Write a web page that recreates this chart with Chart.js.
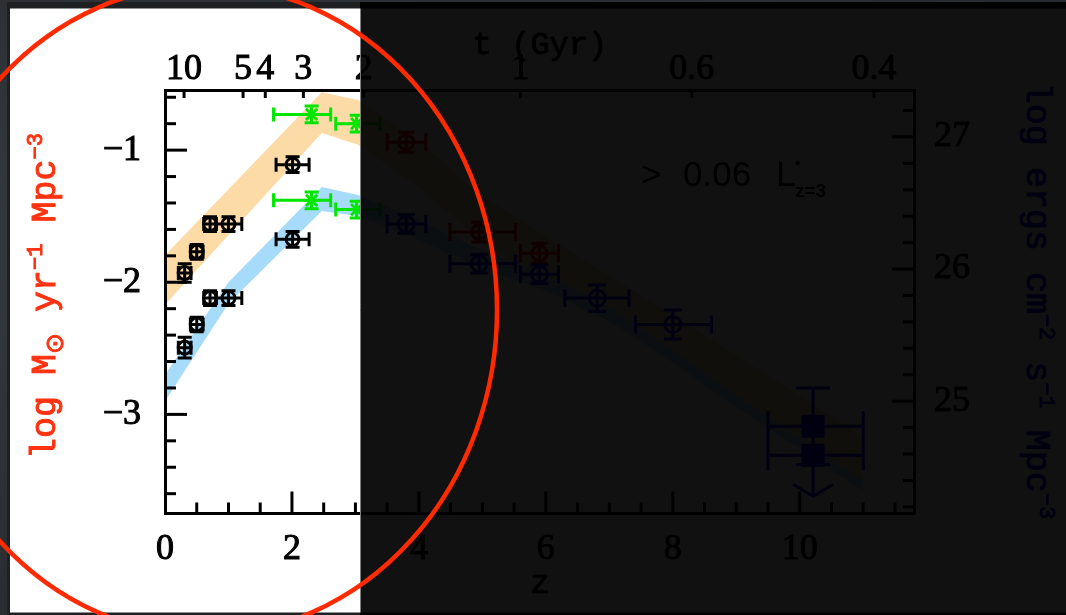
<!DOCTYPE html>
<html>
<head>
<meta charset="utf-8">
<script src="https://cdn.jsdelivr.net/npm/chart.js@4.4.0/dist/chart.umd.min.js"></script>
<style>
  html, body { margin: 0; padding: 0; width: 1066px; height: 615px; overflow: hidden;
    background: radial-gradient(ellipse at 20% 40%, #363b40 0%, #2c3034 55%, #24282b 100%); }
  canvas { display: block; }
</style>
</head>
<body>
<canvas id="sfr" width="1066" height="615"></canvas>
<script>
// ---- axes ----
const zMax = 11.8;
const yMin = -3.75, yMax = -0.545;
const lumOffset = 27.9;               // log SFR density -> log luminosity density
const zTicks = [0, 2, 4, 6, 8, 10];
const sfrTicks = [-3, -2, -1];
const lumTicks = [25, 26, 27];
// cosmic age (Gyr) on the top axis and the redshift of each tick
const ageLabels = ['10', '5', '4', '3', '2', '1', '0.6', '0.4'];
const ageTickZ  = [0.30, 1.23, 1.58, 2.18, 3.13, 5.60, 8.30, 11.17];

// ---- shaded bands ----
const dustBandZ  = [0, 2.47, 3.04, 4.0, 5.0, 6.0, 7.0, 8.0, 9.0, 10.0, 11.0];
const dustBandHi = [-1.795, -0.562, -0.62, -0.93, -1.35, -1.65, -1.95, -2.25, -2.55, -2.86, -3.17];
const dustBandLo = [-2.17, -0.87, -0.96, -1.28, -1.70, -2.00, -2.29, -2.59, -2.89, -3.20, -3.51];
const rawBandZ   = [0, 1.0, 2.47, 3.04, 3.8, 5.0, 6.0, 7.0, 8.0, 9.0, 10.0, 11.0];
const rawBandHi  = [-2.70, -2.00, -1.28, -1.34, -1.485, -1.76, -1.935, -2.185, -2.51, -2.855, -3.18, -3.50];
const rawBandLo  = [-2.90, -2.16, -1.46, -1.50, -1.635, -1.90, -2.065, -2.295, -2.61, -2.945, -3.26, -3.58];

// ---- low-redshift points (black) ----
const lowZ       = [0.31, 0.50, 0.71, 1.00, 2.01];
const lowZLo     = [0.21, 0.40, 0.61, 0.80, 1.75];
const lowZHi     = [0.41, 0.60, 0.81, 1.21, 2.27];
const lowDustV   = [-1.93, -1.77, -1.56, -1.56, -1.11];
const lowDustErr = [0.07, 0.055, 0.055, 0.055, 0.06];
const lowRawV    = [-2.495, -2.32, -2.12, -2.12, -1.675];
const lowRawErr  = [0.078, 0.055, 0.055, 0.055, 0.06];

// ---- z~2-3 points (green) ----
const greenZ     = [2.31, 3.02];
const greenZLo   = [1.71, 2.69];
const greenZHi   = [2.61, 3.39];
const greenDustV = [-0.73, -0.80];
const greenRawV  = [-1.38, -1.45];
const greenErr   = [0.063, 0.063];

// ---- high-redshift points ----
const hiDustZ    = [3.80, 4.95, 5.90];
const hiDustZLo  = [3.50, 4.49, 5.60];
const hiDustZHi  = [4.11, 5.52, 6.20];
const hiDustV    = [-0.94, -1.62, -1.78];
const hiDustErr  = [0.076, 0.075, 0.075];
const hiRawZ     = [3.80, 4.95, 5.90, 6.81, 8.00];
const hiRawZLo   = [3.50, 4.49, 5.60, 6.30, 7.41];
const hiRawZHi   = [4.11, 5.52, 6.20, 7.31, 8.61];
const hiRawV     = [-1.56, -1.86, -1.94, -2.12, -2.32];
const hiRawErr   = [0.07, 0.07, 0.07, 0.10, 0.11];

// ---- z~10 ----
const z10        = [10.21];
const z10Lo      = [9.50];
const z10Hi      = [11.00];
const z10DustV   = [-3.09];
const z10DustErr = [0.29];
const z10RawV    = [-3.31];
const z10RawLim  = [-3.62];

const pts = (zs, vs) => zs.map((z, i) => ({ x: z, y: vs[i] }));
const errs = (lo, hi, ve) => lo.map((l, i) => ({ zLo: l, zHi: hi[i], vErr: ve ? ve[i] : 0 }));

const ORANGE = 'rgb(253,219,166)';
const SKY = 'rgb(166,219,250)';
const NONE = 'rgba(0,0,0,0)';

function markers(data, bars, color, style, r, bw, capX, capY) {
  return { type: 'scatter', data, errorBars: bars, borderColor: color,
    backgroundColor: style === 'rect' ? color : NONE, pointStyle: style,
    pointRadius: r, pointBorderWidth: bw, errLineWidth: 3, capX, capY, order: 1 };
}

const datasets = [
  markers(pts(lowZ, lowDustV), errs(lowZLo, lowZHi, lowDustErr), '#000', 'circle', 6.5, 3, 7, 7),
  markers(pts(lowZ, lowRawV), errs(lowZLo, lowZHi, lowRawErr), '#000', 'circle', 6.5, 3, 7, 7),
  markers(pts(greenZ, greenDustV), errs(greenZLo, greenZHi, greenErr), '#00e600', 'star', 8, 2.8, 7, 7),
  markers(pts(greenZ, greenRawV), errs(greenZLo, greenZHi, greenErr), '#00e600', 'star', 8, 2.8, 7, 7),
  markers(pts(hiDustZ, hiDustV), errs(hiDustZLo, hiDustZHi, hiDustErr), '#ff0000', 'circle', 7.5, 3, 9, 8),
  markers(pts(hiRawZ, hiRawV), errs(hiRawZLo, hiRawZHi, hiRawErr), '#0000ff', 'circle', 8, 3, 9, 9),
  markers(pts(z10, z10DustV), errs(z10Lo, z10Hi, z10DustErr), '#0000ff', 'rect', 16.3, 0, 15, 17),
  markers(pts(z10, z10RawV), z10Lo.map((l, i) => ({ zLo: l, zHi: z10Hi[i], limit: z10RawLim[i] })), '#0000ff', 'rect', 16.3, 0, 15, 17),
  // dust-corrected band
  { type: 'line', data: pts(dustBandZ, dustBandHi), borderColor: NONE, borderWidth: 0, pointRadius: 0, fill: false, tension: 0, order: 20 },
  { type: 'line', data: pts(dustBandZ, dustBandLo), borderColor: NONE, borderWidth: 0, pointRadius: 0, fill: '-1', backgroundColor: ORANGE, tension: 0, order: 20 },
  // uncorrected band
  { type: 'line', data: pts(rawBandZ, rawBandHi), borderColor: NONE, borderWidth: 0, pointRadius: 0, fill: false, tension: 0, order: 15 },
  { type: 'line', data: pts(rawBandZ, rawBandLo), borderColor: NONE, borderWidth: 0, pointRadius: 0, fill: '-1', backgroundColor: SKY, tension: 0, order: 15 }
];

// error bars, caps and upper-limit arrows
const errorBars = {
  id: 'errorBars',
  afterDatasetsDraw(chart) {
    const c = chart.ctx, sx = chart.scales.x, sy = chart.scales.y;
    chart.data.datasets.forEach(ds => {
      if (!ds.errorBars) return;
      c.save();
      c.strokeStyle = ds.borderColor;
      c.lineWidth = ds.errLineWidth;
      c.lineCap = 'butt';
      ds.data.forEach((p, j) => {
        const e = ds.errorBars[j];
        const px = sx.getPixelForValue(p.x), py = sy.getPixelForValue(p.y);
        c.beginPath();
        const x0 = sx.getPixelForValue(e.zLo), x1 = sx.getPixelForValue(e.zHi);
        c.moveTo(x0, py); c.lineTo(x1, py);
        c.moveTo(x0, py - ds.capX); c.lineTo(x0, py + ds.capX);
        c.moveTo(x1, py - ds.capX); c.lineTo(x1, py + ds.capX);
        if (e.vErr) {
          const y0 = sy.getPixelForValue(p.y + e.vErr), y1 = sy.getPixelForValue(p.y - e.vErr);
          c.moveTo(px, y0); c.lineTo(px, y1);
          c.moveTo(px - ds.capY, y0); c.lineTo(px + ds.capY, y0);
          c.moveTo(px - ds.capY, y1); c.lineTo(px + ds.capY, y1);
        }
        if (e.limit !== undefined) {
          const yl = sy.getPixelForValue(e.limit);
          c.moveTo(px, py); c.lineTo(px, yl);
          c.moveTo(px - 20, yl - 12); c.lineTo(px, yl); c.lineTo(px + 20, yl - 12);
        }
        c.stroke();
      });
      c.restore();
    });
  }
};

// tick marks pointing into the frame
const inwardTicks = {
  id: 'inwardTicks',
  afterDatasetsDraw(chart) {
    const c = chart.ctx, a = chart.chartArea, s = chart.scales;
    c.save();
    c.strokeStyle = '#000';
    c.lineWidth = 3;
    const seg = (x0, y0, x1, y1) => { c.beginPath(); c.moveTo(x0, y0); c.lineTo(x1, y1); c.stroke(); };
    for (let k = 1; k * 0.5 < zMax; k++) {
      const px = s.x.getPixelForValue(k * 0.5);
      seg(px, a.bottom, px, a.bottom - (k % 4 === 0 ? 22 : 11));
    }
    for (let k = Math.ceil(yMin * 5); k <= Math.floor(yMax * 5); k++) {
      const py = s.y.getPixelForValue(k / 5);
      seg(a.left, py, a.left + (k % 5 === 0 ? 22 : 11), py);
    }
    for (let k = Math.ceil((yMin + lumOffset) * 5); k <= Math.floor((yMax + lumOffset) * 5); k++) {
      const py = s.yLum.getPixelForValue(k / 5);
      seg(a.right, py, a.right - (k % 5 === 0 ? 22 : 11), py);
    }
    ageTickZ.forEach(z => {
      const px = s.xAge.getPixelForValue(z);
      seg(px, a.top, px, a.top + 8);
    });
    c.restore();
  }
};

// text with raised / lowered pieces, optionally rotated; a thin outline thickens the strokes
function richText(c, parts, x, y, angle) {
  c.save();
  c.translate(x, y);
  c.rotate(angle);
  c.textAlign = 'left';
  c.textBaseline = 'alphabetic';
  c.strokeStyle = c.fillStyle;
  c.lineWidth = 1;
  c.lineJoin = 'round';
  let total = 0;
  parts.forEach(p => { c.font = p[1]; total += c.measureText(p[0]).width; });
  let cx = -total / 2;
  parts.forEach(p => {
    c.font = p[1];
    c.fillText(p[0], cx, p[2]);
    c.strokeText(p[0], cx, p[2]);
    cx += c.measureText(p[0]).width;
  });
  c.restore();
}

const MONO = '"Liberation Mono", "DejaVu Sans Mono", monospace';
const slide = {
  id: 'slide',
  beforeDraw(chart) {
    const c = chart.ctx;
    c.save();
    c.fillStyle = '#1e2022';
    c.fillRect(7, 2, 1059, 613);
    c.fillStyle = '#ffffff';
    c.fillRect(10, 8.5, 1056, 604);
    c.restore();
  },
  afterDraw(chart) {
    const c = chart.ctx;
    c.save();
    const big = '35px ' + MONO, sup = '22px ' + MONO;
    c.fillStyle = '#ff3311';
    richText(c, [['log M', big, 0], ['\u2299', '25px "DejaVu Sans"', 8], [' yr', big, 0],
      ['\u22121', sup, -13], [' Mpc', big, 0], ['\u22123', sup, -13]], 55, 296, -Math.PI / 2);
    c.fillStyle = '#0000ff';
    richText(c, [['log ergs cm', big, 0], ['\u22122', sup, -13], [' s', big, 0],
      ['\u22121', sup, -13], [' Mpc', big, 0], ['\u22123', sup, -13]], 1027, 301, Math.PI / 2);

    c.fillStyle = '#000';
    richText(c, [['t (Gyr)', '32px ' + MONO, 0]], 540, 54, 0);
    richText(c, [['z', '33px ' + MONO, 0]], 540, 593, 0);

    c.textAlign = 'left';
    c.textBaseline = 'alphabetic';
    c.font = '35px "Liberation Sans"';
    c.fillText('>', 641, 185.5);
    c.fillText('0.06', 683, 185.5);
    c.fillText('L', 776, 185.5);
    c.font = 'bold 15px "Liberation Sans"';
    c.fillText('\u2022', 795, 168);
    c.font = 'bold 19px "Liberation Sans"';
    c.fillText('z=3', 795, 197);

    // dimmed right-hand side of the slide
    c.fillStyle = 'rgba(0,0,0,0.933)';
    c.fillRect(360, 2, 706, 613);
    c.strokeStyle = 'rgba(140,140,140,0.9)';
    c.lineWidth = 1;
    c.beginPath(); c.moveTo(360.5, 8.5); c.lineTo(360.5, 612.5); c.stroke();

    // highlight ring
    c.beginPath();
    c.ellipse(205, 310, 292, 325, 0, 0, Math.PI * 2);
    c.lineWidth = 4.5;
    c.strokeStyle = '#ff2a00';
    c.stroke();
    c.restore();
  }
};

const tickFont = { family: 'Liberation Serif', size: 36, lineHeight: 1 };
const tickText = { font: tickFont, color: '#000', textStrokeColor: '#000', textStrokeWidth: 1 };
const frame = { display: true, color: '#000', width: 3, z: 1 };
const noGrid = { display: false, drawTicks: false };

new Chart(document.getElementById('sfr'), {
  type: 'scatter',
  data: { datasets },
  plugins: [slide, errorBars, inwardTicks],
  options: {
    responsive: false,
    devicePixelRatio: 1,
    animation: false,
    events: [],
    layout: { padding: 0 },
    plugins: { legend: { display: false }, tooltip: { enabled: false } },
    scales: {
      x: {
        type: 'linear', position: 'bottom', min: 0, max: zMax,
        afterBuildTicks: s => { s.ticks = zTicks.map(v => ({ value: v })); },
        afterFit: s => { s.height = 615 - 513.5; },
        ticks: { ...tickText, padding: 18.5, maxRotation: 0, autoSkip: false },
        grid: noGrid, border: frame
      },
      xAge: {
        type: 'linear', position: 'top', min: 0, max: zMax,
        afterBuildTicks: s => { s.ticks = ageTickZ.map(v => ({ value: v })); },
        afterFit: s => { s.height = 90; },
        ticks: { ...tickText, padding: 2, maxRotation: 0, autoSkip: false,
                 callback: (v, i) => ageLabels[i] },
        grid: noGrid, border: frame
      },
      y: {
        type: 'linear', position: 'left', min: yMin, max: yMax,
        afterBuildTicks: s => { s.ticks = sfrTicks.map(v => ({ value: v })); },
        afterFit: s => { s.width = 165; },
        ticks: { ...tickText, padding: 24,
                 callback: v => (v < 0 ? '\u2212' : '') + Math.abs(v) },
        grid: noGrid, border: frame
      },
      yLum: {
        type: 'linear', position: 'right', min: yMin + lumOffset, max: yMax + lumOffset,
        afterBuildTicks: s => { s.ticks = lumTicks.map(v => ({ value: v })); },
        afterFit: s => { s.width = 1066 - 914; },
        ticks: { ...tickText, padding: 20, callback: v => String(v) },
        grid: noGrid, border: frame
      }
    }
  }
});
</script>
</body>
</html>
